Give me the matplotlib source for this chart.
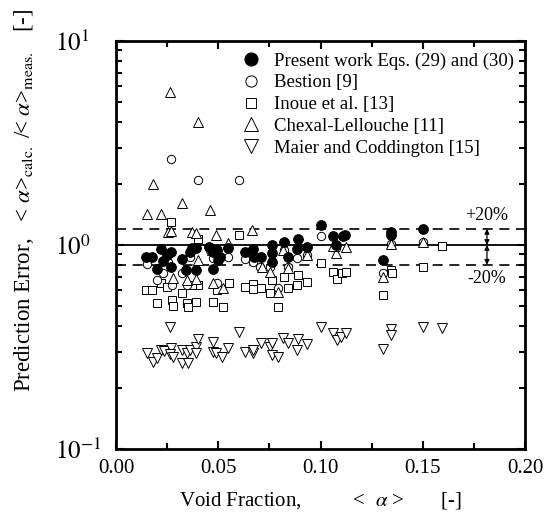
import numpy as np
import matplotlib
matplotlib.use("Agg")
import matplotlib.pyplot as plt
from matplotlib.ticker import MultipleLocator, FormatStrFormatter, LogLocator, NullFormatter

plt.rcParams["font.family"] = ["Liberation Serif", "DejaVu Serif"]
plt.rcParams["mathtext.fontset"] = "stix"

# --- data -------------------------------------------------------------------
present_x = [0.0147, 0.0176, 0.0220, 0.0269, 0.0249, 0.0200, 0.0230, 0.0269, 0.0323, 0.0342,
             0.0362, 0.0391, 0.0391, 0.0455, 0.0474, 0.0509, 0.0499, 0.0474, 0.0548, 0.0631,
             0.0670, 0.0675, 0.0709, 0.0763, 0.0763, 0.0763, 0.0822, 0.0841, 0.0890, 0.0885,
             0.0934, 0.1002, 0.1061, 0.1110, 0.1120, 0.1076, 0.1306, 0.1345, 0.1345, 0.1501,
             0.0372, 0.0494]
present_y = [0.873, 0.873, 0.956, 0.924, 0.893, 0.763, 0.835, 0.780, 0.854, 0.754,
             0.924, 0.967, 0.754, 0.978, 0.924, 0.873, 0.844, 0.763, 0.967, 0.924,
             0.956, 0.873, 0.873, 1.000, 0.914, 0.825, 1.030, 0.873, 1.070, 0.956,
             0.978, 1.250, 1.110, 1.110, 1.120, 1.000, 0.844, 1.160, 1.120, 1.200,
             0.967, 0.945]

bestion_x = [0.0269, 0.0401, 0.0601, 0.0152, 0.0200, 0.0230, 0.0323, 0.0362, 0.0460, 0.0548,
             0.0631, 0.0670, 0.0753, 0.0822, 0.0885, 0.0934, 0.1002, 0.1076, 0.1306, 0.1345,
             0.1501, 0.0792, 0.0841, 0.0274, 0.0347, 0.0494, 0.0704, 0.0254, 0.0474]
bestion_y = [2.64, 2.08, 2.08, 0.807, 0.674, 0.729, 0.729, 0.873, 0.945, 0.873,
             0.854, 0.825, 0.780, 0.945, 0.864, 0.893, 1.110, 0.967, 0.729, 1.010,
             1.030, 0.615, 0.780, 0.637, 0.637, 0.651, 0.780, 0.825, 0.864]

inoue_x = [0.0269, 0.0401, 0.0601, 0.0147, 0.0176, 0.0200, 0.0220, 0.0249, 0.0274, 0.0279,
           0.0323, 0.0347, 0.0352, 0.0391, 0.0401, 0.0372, 0.0474, 0.0523, 0.0494, 0.0553,
           0.0631, 0.0670, 0.0670, 0.0709, 0.0753, 0.0763, 0.0792, 0.0822, 0.0841, 0.0885,
           0.0890, 0.0934, 0.1002, 0.1061, 0.1081, 0.1105, 0.1125, 0.1306, 0.1345, 0.1350,
           0.1501, 0.1594]
inoue_y = [1.30, 1.07, 1.12, 0.602, 0.602, 0.520, 0.651, 0.622, 0.538, 0.503,
           0.582, 0.520, 0.497, 0.526, 0.637, 0.637, 0.526, 0.497, 0.602, 0.651,
           0.622, 0.644, 0.608, 0.615, 0.582, 0.674, 0.497, 0.697, 0.615, 0.637,
           0.713, 0.659, 0.816, 0.737, 0.681, 0.729, 0.737, 0.569, 0.754, 0.729,
           0.780, 0.989]

chexal_x = [0.0264, 0.0401, 0.0181, 0.0323, 0.0460, 0.0152, 0.0220, 0.0254, 0.0269, 0.0372,
            0.0391, 0.0489, 0.0665, 0.0548, 0.0401, 0.0469, 0.0817, 0.0753, 0.0714, 0.0841,
            0.0934, 0.1076, 0.1061, 0.1125, 0.1345, 0.1306, 0.1501, 0.0279, 0.0347, 0.0391,
            0.0474, 0.0523, 0.0792]
chexal_y = [5.62, 4.01, 1.99, 1.61, 1.48, 1.42, 1.42, 1.16, 1.17, 1.16,
            1.145, 1.12, 1.18, 1.02, 0.844, 0.945, 0.945, 0.737, 0.780, 0.771,
            0.893, 0.914, 0.989, 0.978, 1.010, 0.697, 1.030, 0.689, 0.674, 0.681,
            0.651, 0.615, 0.589]

maier_x = [0.0152, 0.0181, 0.0200, 0.0220, 0.0235, 0.0264, 0.0269, 0.0264, 0.0279, 0.0323,
           0.0323, 0.0352, 0.0347, 0.0362, 0.0391, 0.0391, 0.0401, 0.0474, 0.0474, 0.0489,
           0.0518, 0.0548, 0.0601, 0.0631, 0.0670, 0.0670, 0.0709, 0.0753, 0.0763, 0.0763,
           0.0792, 0.0817, 0.0841, 0.0885, 0.0890, 0.0934, 0.1002, 0.1061, 0.1081, 0.1100,
           0.1125, 0.1306, 0.1345, 0.1345, 0.1501, 0.1594]
maier_y = [0.296, 0.267, 0.280, 0.306, 0.302, 0.397, 0.313, 0.292, 0.283, 0.306,
           0.264, 0.264, 0.296, 0.306, 0.316, 0.296, 0.346, 0.335, 0.299, 0.296,
           0.283, 0.313, 0.375, 0.299, 0.296, 0.306, 0.331, 0.316, 0.331, 0.289,
           0.283, 0.350, 0.331, 0.306, 0.346, 0.327, 0.397, 0.370, 0.342, 0.354,
           0.370, 0.309, 0.388, 0.362, 0.397, 0.392]

band_hi = 1.2
band_lo = 0.8

ytick_vals = [0.1, 1.0, 10.0]
ytick_labels = [r"$10^{\mathrm{-1}}$", r"$10^{0}$", r"$10^{1}$"]

# --- plot --------------------------------------------------------------------
fig = plt.figure(figsize=(5.55, 5.21), dpi=100)
ax = fig.add_axes([116 / 555, 72 / 521, 409 / 555, 408 / 521])

ax.axhline(1.0, color="black", lw=1.3, zorder=1)
ax.axhline(band_hi, color="black", lw=1.2, ls=(0, (6, 4)), zorder=1)
ax.axhline(band_lo, color="black", lw=1.2, ls=(0, (6, 4)), zorder=1)

mk = dict(markeredgecolor="black", markeredgewidth=0.7, linestyle="none")
ax.plot(maier_x, maier_y, "v", ms=7, mfc="white", label="Maier and Coddington [15]", **mk)
ax.plot(inoue_x, inoue_y, "s", ms=5.5, mfc="white", label="Inoue et al. [13]", **mk)
ax.plot(bestion_x, bestion_y, "o", ms=6, mfc="white", label="Bestion [9]", **mk)
ax.plot(chexal_x, chexal_y, "^", ms=7, mfc="white", label="Chexal-Lellouche [11]", **mk)
ax.plot(present_x, present_y, "o", ms=7, mfc="black", label="Present work Eqs. (29) and (30)", **mk)

# +/-20 % markers
xa = 0.1814
for yend in (band_hi, band_lo):
    ax.annotate("", xy=(xa, yend), xytext=(xa, 1.0),
                arrowprops=dict(arrowstyle="<|-|>", color="black", lw=0.9, mutation_scale=7,
                                shrinkA=0, shrinkB=0))
ax.text(xa, 1.40, "+20%", ha="center", va="center", fontsize=13)
ax.text(xa, 0.685, "-20%", ha="center", va="center", fontsize=13)

ax.set_yscale("log")
ax.set_xlim(0, 0.2)
ax.set_ylim(0.1, 10)
ax.xaxis.set_major_locator(MultipleLocator(0.05))
ax.xaxis.set_minor_locator(MultipleLocator(0.025))
ax.xaxis.set_major_formatter(FormatStrFormatter("%.2f"))
ax.set_yticks(ytick_vals)
ax.set_yticklabels(ytick_labels)
ax.yaxis.set_minor_locator(LogLocator(base=10, subs=np.arange(2, 10)))
ax.yaxis.set_minor_formatter(NullFormatter())

ax.tick_params(which="both", direction="in", top=True, right=True, width=1.5)
ax.tick_params(which="major", length=6)
ax.tick_params(which="minor", length=4)
ax.tick_params(axis="x", labelsize=15, pad=7)
ax.tick_params(axis="y", labelsize=18, pad=44)
for lbl in ax.get_yticklabels():
    lbl.set_horizontalalignment("left")
for s in ax.spines.values():
    s.set_linewidth(2)

ax.set_xlabel("Void Fraction,          <  $\\alpha$ >       [-]", fontsize=15, labelpad=9)
fig.text(24 / 555, 1 - 200 / 521,
         "Prediction Error,   < $\\alpha$>$_{\\rm calc.}$ /< $\\alpha$>$_{\\rm meas.}$   [-]",
         rotation=90, ha="center", va="center", fontsize=16.5)

h, l = ax.get_legend_handles_labels()
order = [4, 2, 1, 3, 0]
ax.legend([h[i] for i in order], [l[i] for i in order], loc="upper right",
          frameon=False, fontsize=13.5, markerscale=1.35, handlelength=1.0,
          handletextpad=0.7, labelspacing=0.25, borderaxespad=0.2)

fig.savefig("out.png", dpi=100)
